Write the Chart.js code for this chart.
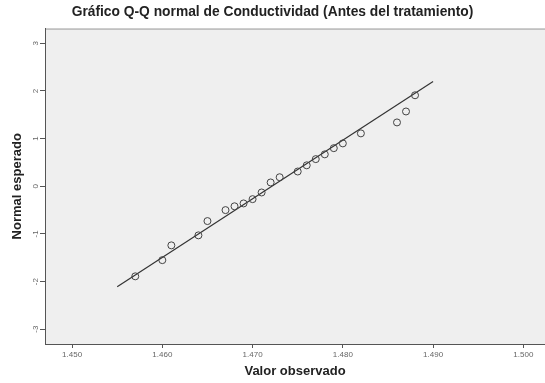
<!DOCTYPE html>
<html>
<head>
<meta charset="utf-8">
<script src="https://cdn.jsdelivr.net/npm/chart.js@4/dist/chart.umd.min.js"></script>
<style>
  html, body { margin: 0; padding: 0; background: #fff; }
  #chart { display: block; }
</style>
</head>
<body>
<canvas id="chart" width="545" height="383"></canvas>
<script>
const observed = [1457, 1460, 1461, 1464, 1465, 1467, 1468, 1469, 1470, 1471, 1472,
                  1473, 1475, 1476, 1477, 1478, 1479, 1480, 1482, 1486, 1487, 1488];
const expected = [-1.89, -1.55, -1.24, -1.03, -0.73, -0.50, -0.42, -0.36, -0.27, -0.13, 0.08,
                  0.19, 0.31, 0.44, 0.57, 0.67, 0.80, 0.90, 1.11, 1.34, 1.57, 1.91];
// reference line end points
const lineX = [1455, 1490];
const lineY = [-2.11, 2.20];
const xTicks = [1450, 1460, 1470, 1480, 1490, 1500];
const yTicks = [-3, -2, -1, 0, 1, 2, 3];

const plotBg = {
    id: 'plotBg',
    beforeDraw(chart) {
        const { ctx, chartArea: a } = chart;
        ctx.save();
        ctx.fillStyle = '#efefef';
        ctx.fillRect(a.left, a.top, a.right - a.left, a.bottom - a.top);
        ctx.strokeStyle = '#9a9a9a';
        ctx.lineWidth = 1;
        ctx.beginPath();
        ctx.moveTo(a.left, a.top + 0.5);
        ctx.lineTo(a.right, a.top + 0.5);
        ctx.stroke();
        ctx.restore();
    }
};

const tickFont = { family: 'Liberation Sans', size: 8 };
const axisTitleFont = { family: 'Liberation Sans', size: 13, weight: 'bold' };

new Chart(document.getElementById('chart'), {
    type: 'scatter',
    data: {
        datasets: [
            {
                label: 'Observado',
                data: observed.map((x, i) => ({ x: x, y: expected[i] })),
                pointStyle: 'circle',
                pointRadius: 3.5,
                pointBorderWidth: 1,
                borderColor: '#444',
                backgroundColor: 'rgba(0,0,0,0)'
            },
            {
                type: 'line',
                label: 'Normal',
                data: lineX.map((x, i) => ({ x: x, y: lineY[i] })),
                borderColor: '#333',
                borderWidth: 1.2,
                pointRadius: 0,
                fill: false
            }
        ]
    },
    options: {
        responsive: false,
        animation: false,
        devicePixelRatio: 1,
        layout: { padding: 0, autoPadding: false },
        plugins: {
            legend: { display: false },
            tooltip: { enabled: false },
            title: {
                display: true,
                text: 'Gráfico Q-Q normal de Conductividad (Antes del tratamiento)',
                color: '#222',
                font: { family: 'Liberation Sans', size: 13.8, weight: 'bold' },
                padding: { top: 4, bottom: 8 }
            }
        },
        scales: {
            x: {
                type: 'linear',
                min: 1447,
                max: 1502.4,
                afterBuildTicks: s => { s.ticks = xTicks.map(v => ({ value: v })); },
                afterFit: s => { s.height = 39; },
                ticks: {
                    color: '#666',
                    font: tickFont,
                    padding: 2,
                    maxRotation: 0,
                    callback: v => (v / 1000).toFixed(3)
                },
                grid: { display: true, drawOnChartArea: false, tickLength: 4, color: '#555' },
                border: { display: true, color: '#555', width: 1 },
                title: {
                    display: true,
                    text: 'Valor observado',
                    color: '#222',
                    font: axisTitleFont,
                    padding: { top: 0, bottom: 4 }
                }
            },
            y: {
                type: 'linear',
                min: -3.31,
                max: 3.31,
                afterBuildTicks: s => { s.ticks = yTicks.map(v => ({ value: v })); },
                afterFit: s => { s.width = 45; },
                ticks: {
                    color: '#666',
                    font: tickFont,
                    padding: 1,
                    minRotation: 90,
                    maxRotation: 90,
                    crossAlign: 'center'
                },
                grid: { display: true, drawOnChartArea: false, tickLength: 5, color: '#555' },
                border: { display: true, color: '#555', width: 1 },
                title: {
                    display: true,
                    text: 'Normal esperado',
                    color: '#222',
                    font: axisTitleFont,
                    padding: { top: 10, bottom: 0 }
                }
            }
        }
    },
    plugins: [plotBg]
});
</script>
</body>
</html>
